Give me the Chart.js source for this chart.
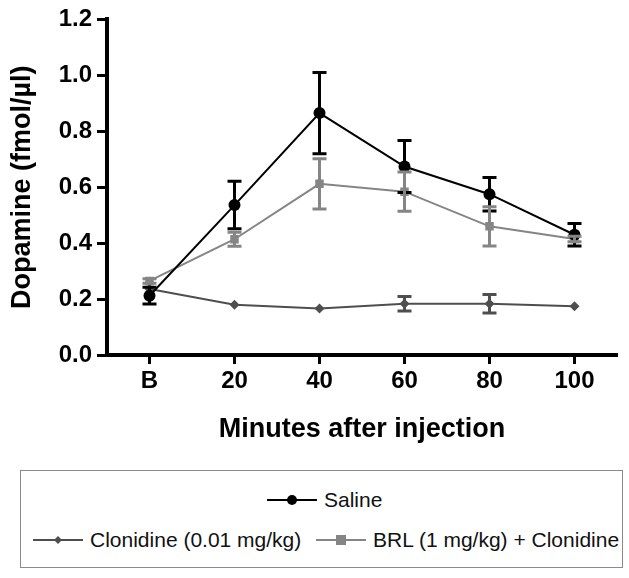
<!DOCTYPE html>
<html>
<head>
<meta charset="utf-8">
<script src="https://cdn.jsdelivr.net/npm/chart.js@4/dist/chart.umd.min.js"></script>
<style>
  body { margin: 0; background: #fff; font-family: "Liberation Sans", Arial, sans-serif; }
  #wrap { position: relative; width: 629px; height: 578px; }
  #chart-box { position: absolute; left: 0; top: 0; width: 629px; height: 460px; }
  #legend {
    position: absolute; left: 20px; top: 470px; width: 603px; height: 98px;
    border: 1.5px solid #8a8a8a; box-sizing: border-box;
  }
  .item { position: absolute; display: flex; align-items: center; font-size: 21px; line-height: 24px; color: #111; white-space: nowrap; }
  .item svg { margin-right: 7px; }
</style>
</head>
<body>
<div id="wrap">
  <div id="chart-box"><canvas id="dopamine-chart"></canvas></div>
  <div id="legend"></div>
</div>
<script>
// Data
const categories = ['B', '20', '40', '60', '80', '100'];

const saline = [0.212, 0.536, 0.865, 0.674, 0.575, 0.430];
const salineErr = [0.030, 0.085, 0.145, 0.093, 0.060, 0.040];

const clonidine = [0.236, 0.180, 0.166, 0.183, 0.183, 0.174];
const clonidineErr = [0, 0, 0, 0.026, 0.033, 0];

const brl = [0.265, 0.414, 0.612, 0.584, 0.460, 0.415];
const brlErr = [0.008, 0.025, 0.090, 0.070, 0.070, 0.010];

const yTicks = [0, 0.2, 0.4, 0.6, 0.8, 1.0, 1.2];

// draw the SEM bars with the chart's own y scale
const errorBars = {
  id: 'errorBars',
  afterDatasetsDraw(chart) {
    const ctx = chart.ctx;
    const yScale = chart.scales.y;
    chart.data.datasets.forEach((ds, di) => {
      const meta = chart.getDatasetMeta(di);
      ds.errors.forEach((e, i) => {
        if (!e) return;
        const x = meta.data[i].x;
        const top = yScale.getPixelForValue(ds.data[i] + e);
        const bot = yScale.getPixelForValue(ds.data[i] - e);
        ctx.save();
        ctx.strokeStyle = ds.borderColor;
        ctx.lineWidth = 3;
        ctx.beginPath();
        ctx.moveTo(x, top); ctx.lineTo(x, bot);
        ctx.moveTo(x - 7, top); ctx.lineTo(x + 7, top);
        ctx.moveTo(x - 7, bot); ctx.lineTo(x + 7, bot);
        ctx.stroke();
        ctx.restore();
      });
    });
  }
};

const series = [
  { label: 'Saline', data: saline, errors: salineErr, color: '#000000', style: 'circle', radius: 6 },
  { label: 'Clonidine (0.01 mg/kg)', data: clonidine, errors: clonidineErr, color: '#4e4e4e', style: 'rectRot', radius: 5 },
  { label: 'BRL (1 mg/kg) + Clonidine', data: brl, errors: brlErr, color: '#858585', style: 'rect', radius: 6 }
];

const ctx = document.getElementById('dopamine-chart');
new Chart(ctx, {
  type: 'line',
  data: {
    labels: categories,
    datasets: series.map(s => ({
      label: s.label,
      data: s.data,
      errors: s.errors,
      borderColor: s.color,
      backgroundColor: s.color,
      borderWidth: 2,
      pointStyle: s.style,
      pointRadius: s.radius,
      pointBorderWidth: 0,
      tension: 0
    }))
  },
  options: {
    responsive: true,
    maintainAspectRatio: false,
    animation: false,
    layout: { padding: { top: 15, right: 12, left: 0, bottom: 0 } },
    plugins: { legend: { display: false }, tooltip: { enabled: false } },
    scales: {
      x: {
        offset: true,
        grid: { display: true, drawOnChartArea: false, offset: false, tickLength: 9, tickWidth: 3, tickColor: '#000' },
        border: { color: '#000', width: 4 },
        ticks: { color: '#000', padding: 3, font: { family: 'Liberation Sans', size: 24, weight: 'bold' } },
        title: { display: true, text: 'Minutes after injection', color: '#000', padding: { top: 2, bottom: 14 },
          font: { family: 'Liberation Sans', size: 27, weight: 'bold' } },
        afterFit(scale) { scale.height = 105; }
      },
      y: {
        min: 0, max: 1.2,
        afterBuildTicks(scale) { scale.ticks = yTicks.map(v => ({ value: v })); },
        grid: { display: true, drawOnChartArea: false, tickLength: 10, tickWidth: 3, tickColor: '#000' },
        border: { color: '#000', width: 4 },
        ticks: { color: '#000', padding: 5, callback: v => Number(v).toFixed(1),
          font: { family: 'Liberation Sans', size: 24, weight: 'bold' } },
        title: { display: true, text: 'Dopamine (fmol/µl)', color: '#000', padding: { top: 6, bottom: 2 },
          font: { family: 'Liberation Sans', size: 27, weight: 'bold' } },
        afterFit(scale) { scale.width = 107; }
      }
    }
  },
  plugins: [errorBars]
});

// HTML legend
function symbol(s) {
  let mark = '';
  if (s.style === 'circle') mark = `<circle cx="25" cy="8" r="5" fill="${s.color}"/>`;
  if (s.style === 'rect') mark = `<rect x="20" y="3" width="10" height="10" fill="${s.color}"/>`;
  if (s.style === 'rectRot') mark = `<polygon points="25,4 29,8 25,12 21,8" fill="${s.color}"/>`;
  return `<svg width="50" height="16"><line x1="0" y1="8" x2="50" y2="8" stroke="${s.color}" stroke-width="2"/>${mark}</svg>`;
}
const legendPos = [[246, 17], [12, 57], [295, 57]];
const legend = document.getElementById('legend');
series.forEach((s, i) => {
  const el = document.createElement('div');
  el.className = 'item';
  el.style.left = legendPos[i][0] + 'px';
  el.style.top = legendPos[i][1] + 'px';
  el.innerHTML = symbol(s) + `<span>${s.label}</span>`;
  legend.appendChild(el);
});
</script>
</body>
</html>
